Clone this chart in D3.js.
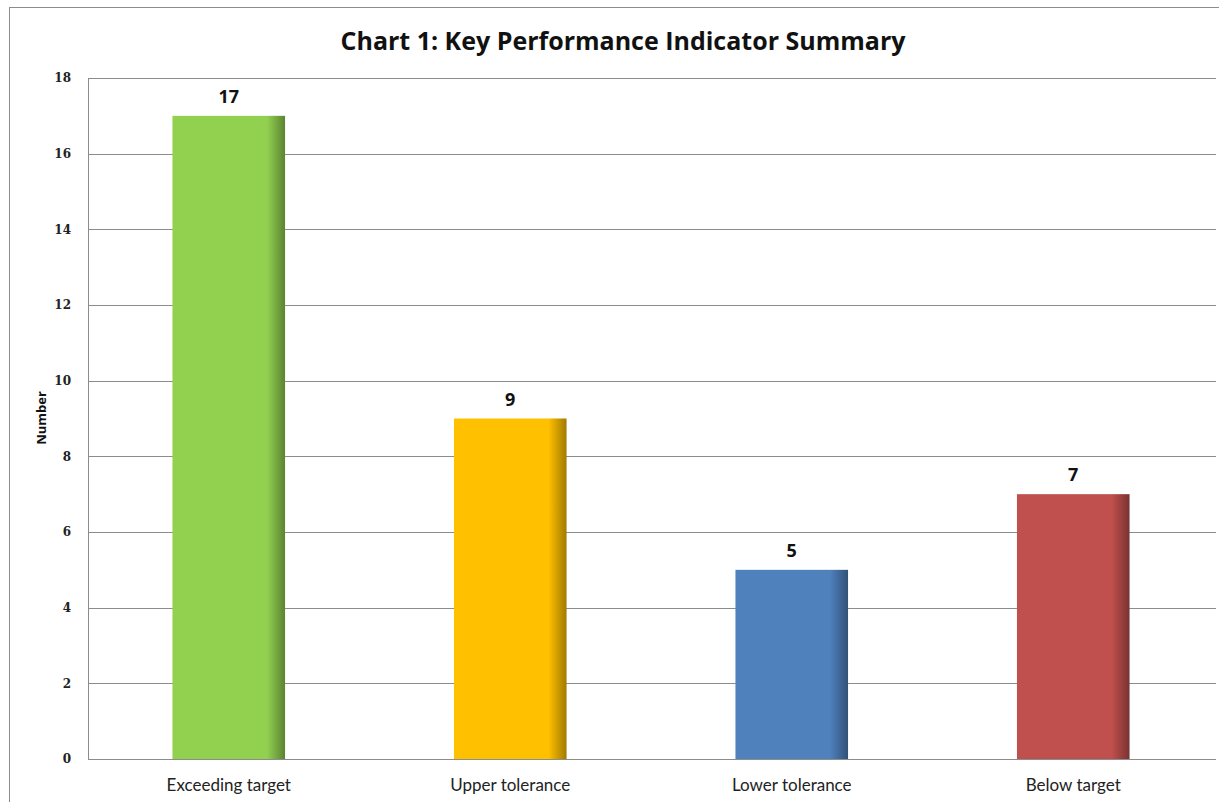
<!DOCTYPE html>
<html>
<head>
<meta charset="utf-8">
<script src="https://cdn.jsdelivr.net/npm/d3@7"></script>
<style>
  body { margin: 0; background: #fff; }
</style>
</head>
<body>
<div id="chart"></div>
<script>
const categories = ['Exceeding target', 'Upper tolerance', 'Lower tolerance', 'Below target']
const values = [17, 9, 5, 7]
const barColors = ['#92D050', '#FFC000', '#4F81BD', '#C0504D']
const yTicks = [0, 2, 4, 6, 8, 10, 12, 14, 16, 18]

const margin = { top: 78, left: 88, right: 3, bottom: 43 }
const W = 1219
const H = 802
const width = W - margin.left - margin.right
const height = H - margin.top - margin.bottom

const root = d3.select('#chart')
  .append('svg')
  .attr('width', W)
  .attr('height', H)

// outer chart frame
root.append('rect')
  .attr('x', 9.5).attr('y', 7.5)
  .attr('width', 1230).attr('height', 820)
  .attr('fill', 'none')
  .attr('stroke', '#8c8c8c')

const defs = root.append('defs')
barColors.forEach((c, i) => {
  const g = defs.append('linearGradient')
    .attr('id', 'grad' + i)
    .attr('x1', '0%').attr('x2', '100%')
    .attr('y1', '0%').attr('y2', '0%')
  const dark = d3.color(c).darker(1.3)
  g.append('stop').attr('offset', '0%').attr('stop-color', c)
  g.append('stop').attr('offset', '84%').attr('stop-color', c)
  g.append('stop').attr('offset', '100%').attr('stop-color', dark)
})

const svg = root.append('g')
  .attr('transform', 'translate(' + margin.left + ',' + margin.top + ')')

const x = d3.scaleBand()
  .domain(categories)
  .range([0, width - 2])
  .paddingInner(0.6)
  .paddingOuter(0.3)

const y = d3.scaleLinear()
  .domain([0, 18])
  .range([height, 0])

// gridlines
svg.append('g')
  .selectAll('line')
  .data(yTicks)
  .enter()
  .append('line')
  .attr('x1', 0)
  .attr('x2', width)
  .attr('y1', d => Math.round(y(d)) + 0.5)
  .attr('y2', d => Math.round(y(d)) + 0.5)
  .attr('stroke', '#8c8c8c')
  .attr('stroke-width', 1)

// y axis line
svg.append('line')
  .attr('x1', 0.5).attr('x2', 0.5)
  .attr('y1', 0).attr('y2', height)
  .attr('stroke', '#8c8c8c')

// y tick labels
svg.append('g')
  .selectAll('text')
  .data(yTicks)
  .enter()
  .append('text')
  .attr('x', -17)
  .attr('y', d => y(d))
  .attr('dy', '0.35em')
  .attr('text-anchor', 'end')
  .attr('font-family', 'DejaVu Serif')
  .attr('font-size', 12)
  .attr('font-weight', 'bold')
  .attr('fill', '#222')
  .text(d => d)

// bars
svg.selectAll('.bar')
  .data(values)
  .enter()
  .append('rect')
  .attr('class', 'bar')
  .attr('x', (d, i) => x(categories[i]))
  .attr('y', d => y(d))
  .attr('width', x.bandwidth())
  .attr('height', d => height - y(d))
  .attr('fill', (d, i) => 'url(#grad' + i + ')')

// value labels
svg.selectAll('.value-label')
  .data(values)
  .enter()
  .append('text')
  .attr('class', 'value-label')
  .attr('x', (d, i) => x(categories[i]) + x.bandwidth() / 2)
  .attr('y', d => y(d) - 13)
  .attr('text-anchor', 'middle')
  .attr('font-family', 'Open Sans')
  .attr('font-weight', 'bold')
  .attr('font-size', 18)
  .attr('fill', '#111')
  .text(d => d)

// category labels
svg.selectAll('.cat-label')
  .data(categories)
  .enter()
  .append('text')
  .attr('class', 'cat-label')
  .attr('x', d => x(d) + x.bandwidth() / 2)
  .attr('y', height + 32)
  .attr('text-anchor', 'middle')
  .attr('font-family', 'Lato')
  .attr('font-size', 17)
  .attr('fill', '#222')
  .text(d => d)

// y axis title
root.append('text')
  .attr('transform', 'translate(46,418) rotate(-90)')
  .attr('text-anchor', 'middle')
  .attr('font-family', 'Open Sans')
  .attr('font-weight', 'bold')
  .attr('font-size', 13)
  .attr('fill', '#111')
  .text('Number')

// chart title
root.append('text')
  .attr('x', 623)
  .attr('y', 50)
  .attr('text-anchor', 'middle')
  .attr('font-family', 'Open Sans')
  .attr('font-weight', 'bold')
  .attr('font-size', 25)
  .attr('fill', '#111')
  .text('Chart 1: Key Performance Indicator Summary')
</script>
</body>
</html>
